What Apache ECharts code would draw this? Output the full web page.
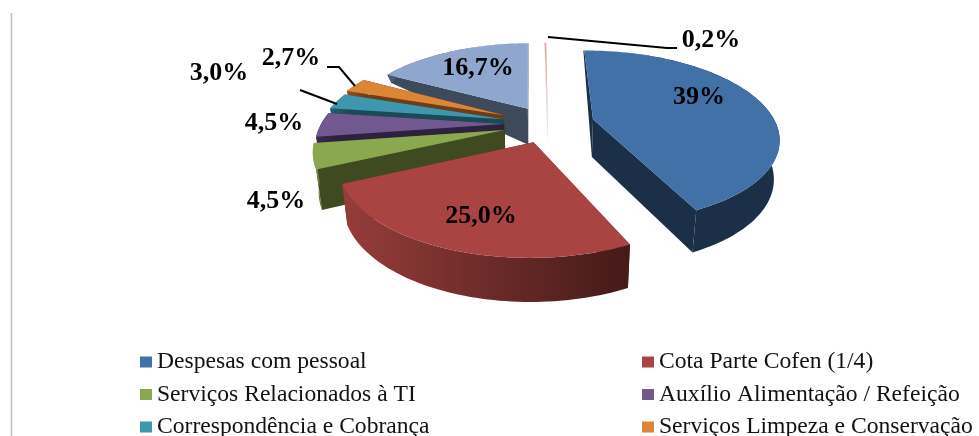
<!DOCTYPE html>
<html><head><meta charset="utf-8">
<style>html,body{margin:0;padding:0;background:#fff}#c{width:979px;height:436px;filter:blur(0.45px)}</style>
<script src="https://cdn.jsdelivr.net/npm/echarts@6/dist/echarts.min.js"></script>
</head><body><div id="c"></div>
<script>
const categories = ['Despesas com pessoal','Cota Parte Cofen (1/4)','Serviços Relacionados à TI','Auxílio Alimentação / Refeição','Correspondência e Cobrança','Serviços Limpeza e Conservação','Outros','Demais'];
const shares = [43.0,25.0,4.5,4.5,3.0,2.7,16.7,0.2];
const labels = ['39%','25,0%','4,5%','4,5%','3,0%','2,7%','16,7%','0,2%'];

// appearance and layout, separate from the values
const topColors = ['#4271a8','#a94442','#8aa84f','#71588f','#3f97ae','#dc8537','#8fa7cf','#e9a5a3'];
const sideColors = ['#1b2f48','#7a2e2c','#3f4a20','#2e2140','#1a4a55','#6d3d15','#3c4a5c','#d8d8d8'];
const wallFrom = ['#1b2f48','#963d3b','#7f9a46','#3b2a52','#24606f','#8d5120','#4b5b72','#d8d8d8'];
const wallTo = ['#1b2f48','#441a18','#5c7230','#2e2140','#1a4a55','#6d3d15','#3c4a5c','#d8d8d8'];
const explode = [0.255,0.22,0.245,0.24,0.252,0.267,0.22,0.2];
const labelXY = [[699,97],[481,216],[276,201],[274,123],[219,73],[291,58],[478,68],[711,40]];
const leaders = [
  [[355,86],[339,67],[327,67]],
  [[300,90],[337,104]],
  [[548,37],[667,48],[677,48]]
];
const drawOrder = [6,7,5,4,3,2,1,0];
const CX=548, CY=124, RX=183, RY=84.2, K=0.2, SHRINK=0.975, START=-0.5;

const total = shares.reduce((s,v)=>s+v,0);
const starts = []; let acc = START;
shares.forEach(v=>{starts.push(acc); acc += v/total*360;});
const rad = d=>d*Math.PI/180;
// perspective projection of a point in the pie's plane (Y grows toward the viewer)
function project(X,Y){const d=1-K*Y;return {x:CX+RX*X/d,y:CY+RY*Y/d,Y};}
function depthAt(Y){return Y>=-0.17?38+5*Y:Math.max(0,37+58*(Y+0.17));}

function slicePaint(i){
  const t0=starts[i], t1=t0+shares[i]/total*360, mid=(t0+t1)/2, e=explode[i];
  const ox=e*Math.sin(rad(mid)), oy=-e*Math.cos(rad(mid));
  const topPt=p=>[p.x,p.y];
  const botPt=p=>[CX+(p.x-CX)*SHRINK,p.y+depthAt(p.Y)];
  const apex=project(ox,oy);
  const arc=[]; const n=Math.max(2,Math.ceil((t1-t0)/1.5));
  for(let j=0;j<=n;j++){const t=rad(t0+(t1-t0)*j/n);arc.push(project(ox+Math.sin(t),oy-Math.cos(t)));}
  const apexTop=topPt(apex), apexBot=botPt(apex);
  const poly=(points,fill)=>({type:'polygon',shape:{points},style:{fill},silent:true});
  const grad=new echarts.graphic.LinearGradient(0,0,1,0,[{offset:0,color:wallFrom[i]},{offset:1,color:wallTo[i]}]);
  const side=sideColors[i];
  return [
    poly([apexTop,topPt(arc[0]),botPt(arc[0]),apexBot],side),
    poly([apexTop,topPt(arc[n]),botPt(arc[n]),apexBot],side),
    poly(arc.map(topPt).concat(arc.slice().reverse().map(botPt)),grad),
    poly([apexTop].concat(arc.map(topPt)),topColors[i])
  ];
}

const series = drawOrder.map((i,z)=>({
  type:'custom',name:categories[i],coordinateSystem:'none',z:2+z,silent:true,
  itemStyle:{color:topColors[i]},data:[shares[i]],
  renderItem:()=>({type:'group',children:slicePaint(i)})
}));
series.push({
  type:'custom',name:'rotulos',coordinateSystem:'none',z:30,silent:true,data:[0],
  renderItem:()=>({type:'group',children:[
    {type:'line',shape:{x1:11.5,y1:13,x2:11.5,y2:436},style:{stroke:'#bdbdbd',lineWidth:1.5}}
  ].concat(leaders.map(points=>({type:'polyline',shape:{points},style:{fill:null,stroke:'#000',lineWidth:2}})))
   .concat(labels.map((t,i)=>({type:'text',x:labelXY[i][0],y:labelXY[i][1],
     style:{text:t,fill:'#000',font:'bold 26px "Liberation Serif"',align:'center',verticalAlign:'middle'}})))})
});
const legendBase={orient:'vertical',icon:'rect',itemWidth:12,itemHeight:11,itemGap:8.5,selectedMode:false,height:200,
  textStyle:{fontFamily:'Liberation Serif',fontSize:23.6,color:'#111',lineHeight:21.5,padding:0},padding:0,top:350};
const chart=echarts.init(document.getElementById('c'),null,{renderer:'canvas'});
chart.setOption({animation:false,backgroundColor:'#fff',
  legend:[
    Object.assign({},legendBase,{left:140,data:[categories[0],categories[2],categories[4]]}),
    Object.assign({},legendBase,{left:642,data:[categories[1],categories[3],categories[5]]})
  ],
  series});
</script></body></html>
